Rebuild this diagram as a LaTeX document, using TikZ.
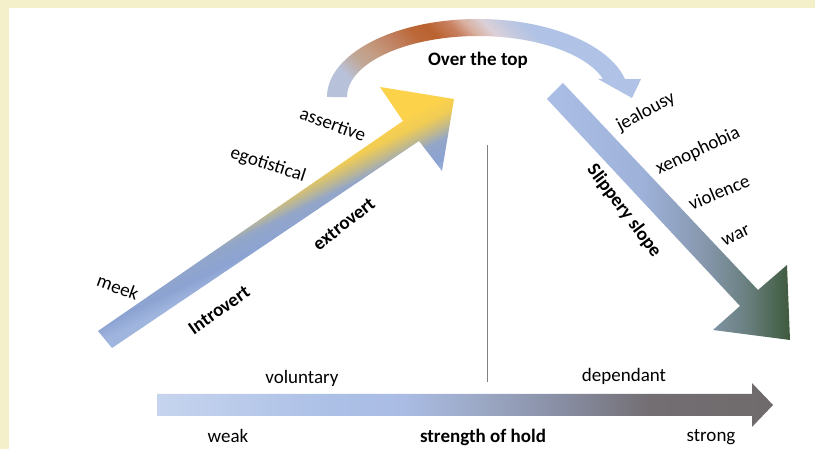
\documentclass[tikz,border=0pt]{standalone}
\usepackage{fontspec}
\setmainfont{Carlito}
\usetikzlibrary{calc}

\definecolor{frame}{HTML}{F4F1CA}
\definecolor{divider}{HTML}{808080}
\pgfdeclarehorizontalshading{riseshade}{100bp}{color(0bp)=(rgb,255:red,170;green,190;blue,228); color(44bp)=(rgb,255:red,160;green,181;blue,222); color(46.5bp)=(rgb,255:red,140;green,163;blue,210); color(49.5bp)=(rgb,255:red,147;green,166;blue,201); color(51.5bp)=(rgb,255:red,196;green,186;blue,136); color(53.5bp)=(rgb,255:red,240;green,204;blue,85); color(56bp)=(rgb,255:red,253;green,210;blue,75); color(100bp)=(rgb,255:red,253;green,210;blue,75)}
\pgfdeclarehorizontalshading{slopeshade}{100bp}{color(0bp)=(rgb,255:red,170;green,190;blue,230); color(25bp)=(rgb,255:red,170;green,190;blue,230); color(45bp)=(rgb,255:red,157;green,177;blue,217); color(57bp)=(rgb,255:red,135;green,152;blue,174); color(66bp)=(rgb,255:red,106;green,128;blue,128); color(75bp)=(rgb,255:red,62;green,90;blue,61); color(100bp)=(rgb,255:red,62;green,90;blue,61)}
\pgfdeclarehorizontalshading{holdshade}{100bp}{color(0bp)=(rgb,255:red,198;green,212;blue,238); color(25bp)=(rgb,255:red,198;green,212;blue,238); color(39bp)=(rgb,255:red,172;green,192;blue,230); color(45bp)=(rgb,255:red,170;green,188;blue,228); color(51bp)=(rgb,255:red,156;green,169;blue,198); color(58bp)=(rgb,255:red,135;green,141;blue,162); color(65bp)=(rgb,255:red,115;green,110;blue,114); color(75bp)=(rgb,255:red,111;green,106;blue,107); color(100bp)=(rgb,255:red,111;green,106;blue,107)}
\pgfdeclarehorizontalshading{overshade}{100bp}{color(0bp)=(rgb,255:red,184;green,193;blue,218); color(22bp)=(rgb,255:red,184;green,193;blue,218); color(27bp)=(rgb,255:red,192;green,168;blue,152); color(31bp)=(rgb,255:red,196;green,156;blue,130); color(37bp)=(rgb,255:red,192;green,128;blue,96); color(42bp)=(rgb,255:red,188;green,104;blue,56); color(45.5bp)=(rgb,255:red,186;green,98;blue,48); color(50bp)=(rgb,255:red,200;green,128;blue,96); color(53bp)=(rgb,255:red,216;green,176;blue,160); color(56.5bp)=(rgb,255:red,220;green,208;blue,216); color(60.5bp)=(rgb,255:red,192;green,200;blue,224); color(64bp)=(rgb,255:red,176;green,194;blue,230); color(100bp)=(rgb,255:red,176;green,194;blue,230)}

\tikzset{
    word/.style = {
        font = \fontsize{19}{22}\selectfont,
        inner sep = 0pt,
        },
    key word/.style = {
        font = \fontsize{19}{22}\selectfont\bfseries,
        inner sep = 0pt,
        },
}

\begin{document}
\begin{tikzpicture}[x=1pt, y=1pt]
    \useasboundingbox (0,0) rectangle (815,449);
    \fill[frame] (0,0) rectangle (815,449);
    \fill[white] (9,0) rectangle (815,441);

    % rising arrow
    \shade[shading=riseshade, shading angle=116]
        (98,118) -- (403,328) -- (380,362) -- (454,350) -- (442,278) -- (419,308) -- (112,101) -- cycle;
    % slippery slope arrow
    \shade[shading=slopeshade]
        (547,350) -- (563,366) -- (758,159) -- (787,184) -- (790,109) -- (713,119) -- (740,143) -- cycle;
    % over the top
    \shade[shading=overshade, shading angle=45]
        (327,352) arc[start angle=180, end angle=13.3, x radius=151, y radius=78]
        -- (641,370) -- (632,351) -- (598,370) -- (603.1,370)
        arc[start angle=17.2, end angle=180, x radius=131, y radius=61] -- cycle;
    % strength of hold
    \shade[shading=holdshade]
        (157,33) -- (752,33) -- (752,22) -- (773,44) -- (752,66) -- (752,55) -- (157,55) -- cycle;

    \coordinate (divtop) at (487,304);
    \coordinate (divbot) at (487,67);
    \draw[divider, line width=0.9pt] (divtop) -- (divbot);

    \node[word, rotate=-20] (meek) at (118,162) {meek};
    \node[word, rotate=-18] (ego) at (268,284) {egotistical};
    \node[word, rotate=-20] (assert) at (333,325) {assertive};
    \node[key word, rotate=35] (intro) at (219,139) {Introvert};
    \node[key word, rotate=38] (extro) at (344,225) {extrovert};
    \node[key word] (top) at (478,389) {Over the top};
    \node[word, rotate=28] (jeal) at (646,337) {jealousy};
    \node[word, rotate=25] (xeno) at (698,298) {xenophobia};
    \node[word, rotate=23] (viol) at (719,257) {violence};
    \node[word, rotate=25] (war) at (736,213) {war};
    \node[key word, rotate=-53] (slip) at (624,238) {Slippery slope};
    \node[word] (vol) at (302,71) {voluntary};
    \node[word] (dep) at (624,73) {dependant};
    \node[word] (weak) at (228,13) {weak};
    \node[key word] (hold) at (483,12) {strength of hold};
    \node[word] (strong) at (711,12) {strong};
\end{tikzpicture}
\end{document}
